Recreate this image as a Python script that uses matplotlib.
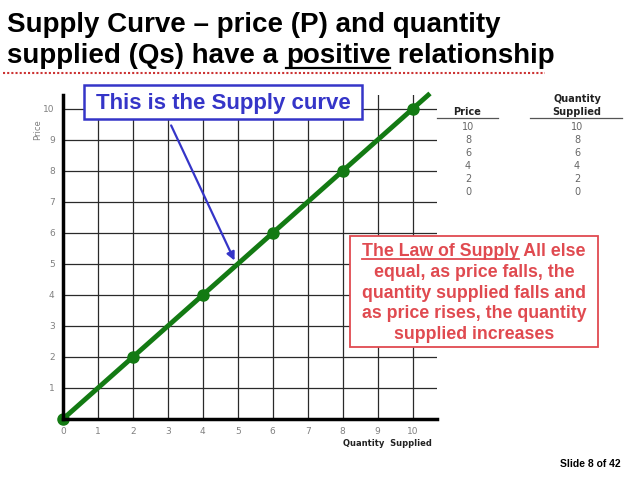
import matplotlib.pyplot as plt
from matplotlib.patches import Rectangle

# data
quantity = [0, 2, 4, 6, 8, 10]
price = [0, 2, 4, 6, 8, 10]
line_q = [0, 10.5]
line_p = [0, 10.5]
ticks = list(range(0, 11))
table_price = ['10', '8', '6', '4', '2', '0']
table_qty = ['10', '8', '6', '4', '2', '0']

W, H = 638, 479
plt.rcParams['font.family'] = ['Liberation Sans', 'DejaVu Sans']

fig = plt.figure(figsize=(W / 100, H / 100), dpi=100)
fig.patch.set_facecolor('white')


def fx(x):
    return x / W


def fy(y):
    return 1 - y / H


def pbox(x0, y0, x1, y1, ec, lw):
    fig.add_artist(Rectangle((fx(x0), fy(y1)), (x1 - x0) / W, (y1 - y0) / H,
                             transform=fig.transFigure, fc='white', ec=ec, lw=lw))


# axes placed in pixel terms: x 0..10.7 -> 63..437, y 0..10.45 -> 419..95
ax = fig.add_axes([fx(63), fy(419), (437 - 63) / W, (419 - 95) / H])
ax.set_xlim(0, 10.7)
ax.set_ylim(0, 10.45)
for s in ['top', 'right']:
    ax.spines[s].set_visible(False)
ax.spines['left'].set_linewidth(2.5)
ax.spines['bottom'].set_linewidth(2.5)
ax.set_xticks(ticks)
ax.set_yticks(ticks[1:])
ax.tick_params(length=0, labelsize=6.5, labelcolor='#808080', pad=6)
ax.set_xticklabels([str(t) for t in ticks], fontfamily='DejaVu Sans')
ax.set_yticklabels([str(t) for t in ticks[1:]], fontfamily='DejaVu Sans')
ax.grid(True, color='#2a2a2a', linewidth=0.9)
ax.set_axisbelow(True)

ax.plot(line_q, line_p, color='#137a13', linewidth=3.5, solid_capstyle='butt', clip_on=False)
ax.plot(quantity, price, 'o', color='#137a13', markersize=8, clip_on=False)

# arrow from label box to the curve
ax.annotate('', xy=(4.94, 5.03), xytext=(3.06, 9.55),
            arrowprops=dict(arrowstyle='-|>', color='#3535c8', lw=1.6, mutation_scale=12))

fig.text(fx(38), fy(130), 'Price', rotation=90, fontsize=6, color='#808080',
         ha='center', va='center', fontfamily='DejaVu Sans')
fig.text(fx(387), fy(443), 'Quantity  Supplied', fontsize=6, color='#222222',
         ha='center', va='center', fontweight='bold', fontfamily='DejaVu Sans')

# blue label
pbox(84, 85, 362, 119, '#3535c8', 1.8)
fig.text(fx(223), fy(103), 'This is the Supply curve', fontsize=16, fontweight='bold',
         color='#3535c8', ha='center', va='center')

# red law of supply box
red = '#e04a50'
pbox(350, 236, 598, 347, red, 1.3)
law_lines = ['The Law of Supply All else', 'equal, as price falls, the',
             'quantity supplied falls and', 'as price rises, the quantity',
             'supplied increases']
lkw = dict(fontsize=12.8, fontweight='bold', color=red, va='baseline')
r = fig.canvas.get_renderer()
for i, s in enumerate(law_lines):
    t = fig.text(fx(474), fy(256 + i * 20.75), s, ha='center', **lkw)
    if i == 0:
        full = t.get_window_extent(r)
        t.remove()
        u = fig.text(full.x0 / W, fy(256), 'The Law of Supply', ha='left', **lkw)
        ub = u.get_window_extent(r)
        fig.text(ub.x1 / W, fy(256), ' All else', ha='left', **lkw)
        fig.add_artist(plt.Line2D([ub.x0 / W, ub.x1 / W], [fy(259), fy(259)], color=red, lw=1.3))

# table on the right
hdr = dict(fontsize=7, fontweight='bold', color='#222222', ha='center', va='center',
           fontfamily='DejaVu Sans')
fig.text(fx(467), fy(112), 'Price', **hdr)
fig.text(fx(577), fy(99), 'Quantity', **hdr)
fig.text(fx(577), fy(112), 'Supplied', **hdr)
fig.add_artist(plt.Line2D([fx(437), fx(498)], [fy(118), fy(118)], color='#555555', lw=0.9))
fig.add_artist(plt.Line2D([fx(530), fx(622)], [fy(118), fy(118)], color='#555555', lw=0.9))
for i, (p, q) in enumerate(zip(table_price, table_qty)):
    yy = 127 + i * 13
    fig.text(fx(468), fy(yy), p, fontsize=7, color='#666666', ha='center', va='center',
             fontfamily='DejaVu Sans')
    fig.text(fx(577), fy(yy), q, fontsize=7, color='#666666', ha='center', va='center',
             fontfamily='DejaVu Sans')

# title
tkw = dict(fontsize=20, fontweight='bold', color='black', ha='left', va='baseline')
fig.text(fx(7), fy(32), 'Supply Curve \u2013 price (P) and quantity', **tkw)
t_a = fig.text(fx(7), fy(63), 'supplied (Qs) have a ', **tkw)
bb = t_a.get_window_extent(r)
t_b = fig.text(bb.x1 / W, fy(63), 'positive', **tkw)
bb2 = t_b.get_window_extent(r)
fig.text(bb2.x1 / W, fy(63), ' relationship', **tkw)
fig.add_artist(plt.Line2D([bb2.x0 / W, bb2.x1 / W], [fy(68), fy(68)], color='black', lw=1.6))
fig.add_artist(plt.Line2D([fx(3), fx(545)], [fy(73), fy(73)], color='#cc3333', lw=1.5,
                          linestyle=(0, (1, 1))))

fig.text(fx(621), fy(464), 'Slide 8 of 42', fontsize=7.5, fontweight='bold', ha='right',
         va='center')

fig.savefig('out.png', dpi=100)
